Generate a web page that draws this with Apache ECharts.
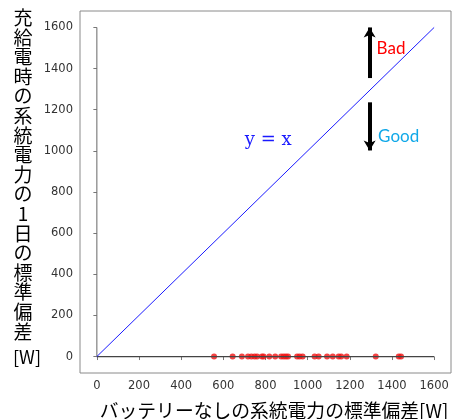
<!DOCTYPE html>
<html>
<head>
<meta charset="utf-8">
<script src="https://cdn.jsdelivr.net/npm/echarts@6/dist/echarts.min.js"></script>
<style>
  html, body { margin: 0; padding: 0; background: #fff; }
  #chart { width: 452px; height: 419px; }
</style>
</head>
<body>
<div id="chart"></div>
<script>
// Standard deviation of grid power without battery (x) vs. on charge/supply days (y)
const pointsX = [556, 644, 688, 717, 733, 748, 760, 783, 791, 818, 846, 874, 886, 897, 907,
                 950, 962, 976, 1033, 1052, 1092, 1119, 1147, 1159, 1185, 1323, 1432, 1443];
const pointsY = [0, 0, 0, 0, 0, 0, 0, 0, 0, 0, 0, 0, 0, 0, 0,
                 0, 0, 0, 0, 0, 0, 0, 0, 0, 0, 0, 0, 0];
const tickValues = [0, 200, 400, 600, 800, 1000, 1200, 1400, 1600];
const axisRange = [-80, 1680];
const identityLine = [[0, 0], [1600, 1600]];
const baseLineX = [[0, 0], [1600, 0]];
const baseLineY = [[0, 0], [0, 1600]];
const badArrow = [[1294, 1354], [1294, 1600]];
const goodArrow = [[1294, 1236], [1294, 1002]];
const badLabelPos = [1327, 1500];
const goodLabelPos = [1334, 1068];
const lineLabelPos = [813, 1052];
const yTitle = '充給電時の系統電力の1日の標準偏差';
const yUnit = '[W]';
const xTitle = 'バッテリーなしの系統電力の標準偏差[W]';

const chart = echarts.init(document.getElementById('chart'), null, { renderer: 'canvas' });

const tickFont = { color: '#333', fontSize: 11.5, fontFamily: 'DejaVu Sans' };

function valueAxis() {
  return {
    type: 'value',
    min: axisRange[0],
    max: axisRange[1],
    splitLine: { show: false },
    axisLine: { show: false },
    axisTick: { show: true, customValues: tickValues, length: 3.5, lineStyle: { color: '#777', width: 1 } },
    axisLabel: Object.assign({ customValues: tickValues, margin: 7, formatter: v => String(v) }, tickFont)
  };
}

const arrowStyle = { color: '#000', width: 4, type: 'solid' };

chart.setOption({
  animation: false,
  grid: { left: 80, top: 11, right: 1, bottom: 46, show: true, borderColor: '#8a8a8a', borderWidth: 1, backgroundColor: 'transparent' },
  xAxis: valueAxis(),
  yAxis: valueAxis(),
  series: [
    {
      type: 'line', data: baseLineY, symbol: 'none', silent: true,
      lineStyle: { color: '#666', width: 1 }
    },
    {
      type: 'line', data: baseLineX, symbol: 'none', silent: true,
      lineStyle: { color: '#444', width: 1.2 }
    },
    {
      type: 'line', data: identityLine, symbol: 'none', silent: true,
      lineStyle: { color: '#1a1aff', width: 1 },
      markLine: {
        silent: true,
        symbol: ['none', 'arrow'],
        symbolSize: [9, 10],
        label: { show: false },
        lineStyle: arrowStyle,
        data: [
          [{ coord: badArrow[0] }, { coord: badArrow[1] }],
          [{ coord: goodArrow[0] }, { coord: goodArrow[1] }]
        ]
      }
    },
    {
      type: 'scatter',
      data: pointsX.map((x, i) => [x, pointsY[i]]),
      symbol: 'circle', symbolSize: 6,
      itemStyle: { color: '#f01414' }
    }
  ]
});

function placeLabels() {
  const bad = chart.convertToPixel({ gridIndex: 0 }, badLabelPos);
  const good = chart.convertToPixel({ gridIndex: 0 }, goodLabelPos);
  const eq = chart.convertToPixel({ gridIndex: 0 }, lineLabelPos);
  const titleChars = yTitle.split('').join('\n');
  chart.setOption({
    graphic: [
      { type: 'text', x: bad[0], y: bad[1], style: { text: 'Bad', fill: '#ff0000', font: '17px Lato', textAlign: 'left', textVerticalAlign: 'middle' } },
      { type: 'text', x: good[0], y: good[1], style: { text: 'Good', fill: '#10a8e8', font: '17px Lato', textAlign: 'left', textVerticalAlign: 'middle' } },
      { type: 'text', x: eq[0], y: eq[1], style: { text: 'y = x', fill: '#1a1aff', font: '18px "DejaVu Serif"', textAlign: 'center', textVerticalAlign: 'middle' } },
      { type: 'text', x: 23, y: 8, style: { text: titleChars, fill: '#000', font: '19px "Noto Sans CJK JP"', lineHeight: 19.6, textAlign: 'center', textVerticalAlign: 'top' } },
      { type: 'text', x: 27, y: 357, style: { text: yUnit, fill: '#000', font: '18px "Noto Sans CJK JP"', textAlign: 'center', textVerticalAlign: 'middle' } },
      { type: 'text', x: 274, y: 411, style: { text: xTitle, fill: '#000', font: '18.8px "Noto Sans CJK JP"', textAlign: 'center', textVerticalAlign: 'middle' } }
    ]
  });
}
placeLabels();
</script>
</body>
</html>
